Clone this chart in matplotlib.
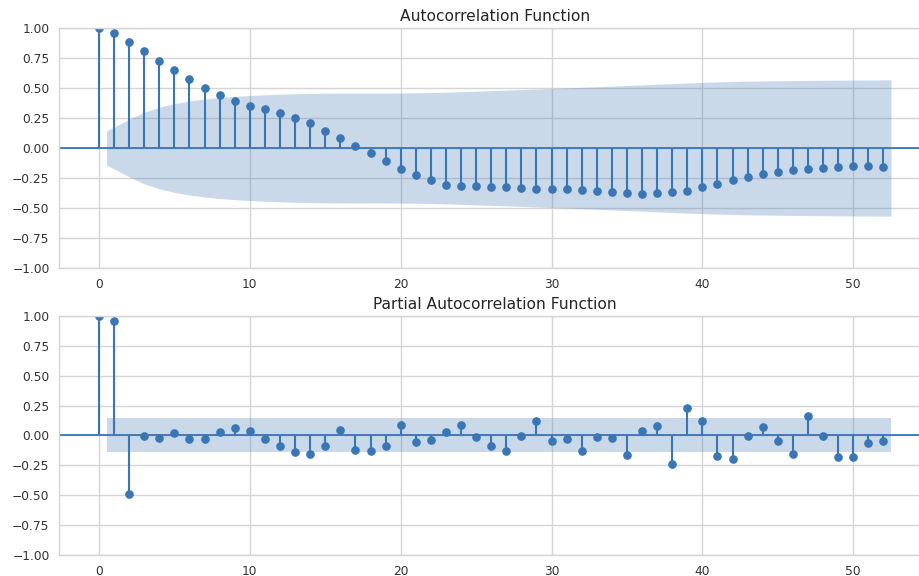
import numpy as np
import matplotlib
matplotlib.use("Agg")
import matplotlib.pyplot as plt
import seaborn as sns

sns.set_style("whitegrid")
plt.rcParams['font.family'] = ['DejaVu Sans']

lags = list(range(0, 53))
acf_vals = [1.0, 0.958, 0.886, 0.807, 0.726, 0.647, 0.575, 0.504, 0.445, 0.395,
            0.353, 0.325, 0.294, 0.252, 0.208, 0.143, 0.087, 0.020, -0.045, -0.112,
            -0.173, -0.224, -0.269, -0.305, -0.316, -0.316, -0.325, -0.325, -0.330, -0.340,
            -0.340, -0.340, -0.350, -0.360, -0.370, -0.375, -0.383, -0.375, -0.368, -0.357,
            -0.325, -0.297, -0.269, -0.238, -0.215, -0.201, -0.187, -0.179, -0.165, -0.160,
            -0.151, -0.151, -0.157]
pacf_vals = [1.0, 0.961, -0.487, -0.006, -0.025, 0.017, -0.033, -0.031, 0.031, 0.061,
             0.039, -0.031, -0.089, -0.142, -0.156, -0.089, 0.047, -0.120, -0.134, -0.089,
             0.089, -0.056, -0.039, 0.031, 0.089, -0.011, -0.092, -0.134, -0.006, 0.125,
             -0.042, -0.033, -0.128, -0.014, -0.019, -0.164, 0.039, 0.081, -0.237, 0.231,
             0.125, -0.170, -0.200, -0.006, 0.072, -0.042, -0.156, 0.167, -0.006, -0.178,
             -0.184, -0.064, -0.042]
N_OBS = 190
titles = ["Autocorrelation Function", "Partial Autocorrelation Function"]
y_ticks = [-1.0, -0.75, -0.5, -0.25, 0.0, 0.25, 0.5, 0.75, 1.0]
x_ticks = [0, 10, 20, 30, 40, 50]

color = "#3a76b5"
z = 1.959964

acf_arr = np.array(acf_vals)
pacf_arr = np.array(pacf_vals)
lag_arr = np.array(lags, dtype=float)

# Bartlett band for ACF (as statsmodels computes it from the ACF values)
var_acf = np.ones(len(acf_arr)) / N_OBS
var_acf[0] = 0
var_acf[2:] *= 1 + 2 * np.cumsum(acf_arr[1:-1] ** 2)
acf_band = z * np.sqrt(var_acf)
pacf_band = np.full(len(pacf_arr), z / np.sqrt(N_OBS))

fig = plt.figure(figsize=(9.19, 5.76), dpi=100)
ax1 = fig.add_axes([0.0646, 0.5347, 0.948, 0.4167])
ax2 = fig.add_axes([0.0646, 0.0365, 0.948, 0.4149])

for ax, vals, band, title in [(ax1, acf_arr, acf_band, titles[0]),
                              (ax2, pacf_arr, pacf_band, titles[1])]:
    ax.vlines(lag_arr, [0], vals, colors=color, linewidth=1.5)
    ax.plot(lag_arr, vals, marker="o", markersize=5.2, markerfacecolor=color,
            markeredgecolor=color, linestyle="None", clip_on=True)
    ax.axhline(0, color=color, linewidth=1.3, zorder=1)
    bx = lag_arr[1:].copy()
    bx[0] -= 0.5
    bx[-1] += 0.5
    ax.fill_between(bx, -band[1:], band[1:], color=color, alpha=0.27, linewidth=0)
    ax.set_ylim(-1, 1)
    ax.set_xlim(-2.625, 55.125)
    ax.set_yticks(y_ticks)
    ax.set_xticks(x_ticks)
    ax.tick_params(axis="both", labelsize=8.8, length=0, pad=7, colors="#333333")
    ax.set_title(title, fontsize=11.2, pad=5, color="#262626")
    ax.grid(True, color="#d5d5d5", linewidth=1.0)
    for s in ax.spines.values():
        s.set_color("#d5d5d5")
        s.set_linewidth(1.0)

fig.savefig("out.png", dpi=100)
